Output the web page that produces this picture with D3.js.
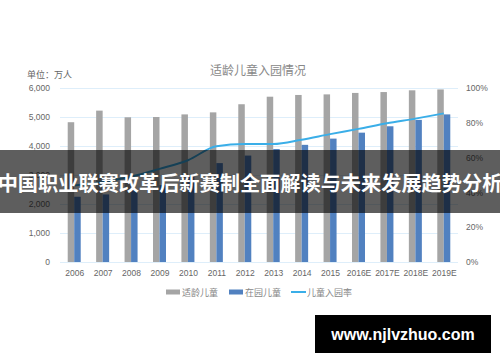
<!DOCTYPE html>
<meta charset="utf-8">
<title>适龄儿童入园情况</title>
<style>
	body { margin: 0; background-color: white; }
	svg text { font-family: "Noto Sans CJK SC", "Noto Sans", sans-serif; }
	.grid line { stroke: #deeefa; stroke-width: 1px; }
	.axis text { fill: #666; font-size: 8.5px; font-family: "Liberation Sans", Arial, sans-serif; }
</style>
<svg width="500" height="362"></svg>
<script src="https://d3js.org/d3.v7.min.js"></script>
<script>
// values (万人 / %)
var years = ["2006","2007","2008","2009","2010","2011","2012","2013","2014","2015","2016E","2017E","2018E","2019E"];
var ageChildren = [4820, 5220, 4990, 5000, 5090, 5160, 5440, 5700, 5760, 5780, 5830, 5860, 5920, 5950];
var enrolled = [2250, 2330, 2470, 2650, 2970, 3410, 3670, 3895, 4040, 4255, 4460, 4680, 4900, 5090];
var enrollRate = [44, 46, 49, 53.5, 58.5, 66.5, 67.8, 67.8, 70.3, 73.5, 76.5, 79.7, 82.4, 85.4];
var leftTicks = [0, 1000, 2000, 3000, 4000, 5000, 6000];
var rightTicks = [0, 20, 40, 60, 80, 100];

var svg = d3.select("svg");
var plotL = 60, plotR = 458, plotT = 88, plotB = 262;

var x = d3.scalePoint().domain(years).range([plotL, plotR]).padding(0.5);
var y = d3.scaleLinear().domain([0, 6000]).range([plotB, plotT]);
var y2 = d3.scaleLinear().domain([0, 100]).range([plotB, plotT]);
var barW = 6.5;

// title + unit
svg.append("text").attr("x", 258).attr("y", 75).attr("text-anchor", "middle")
   .attr("fill", "#888").style("font-size", "12px").text("适龄儿童入园情况");
svg.append("text").attr("x", 27).attr("y", 78)
   .attr("fill", "#666").style("font-size", "9px").text("单位：万人");

// gridlines
svg.append("g").attr("class", "grid").selectAll("line")
   .data(leftTicks).enter().append("line")
   .attr("x1", plotL).attr("x2", plotR)
   .attr("y1", function(d) { return y(d) + 0.5; })
   .attr("y2", function(d) { return y(d) + 0.5; });

// left axis
var ax = svg.append("g").attr("class", "axis")
   .attr("transform", "translate(50,0)")
   .call(d3.axisLeft(y).tickValues(leftTicks).tickFormat(d3.format(",")).tickSize(0).tickPadding(0));
ax.select(".domain").remove();

// right axis
var ax2 = svg.append("g").attr("class", "axis")
   .attr("transform", "translate(466,0)")
   .call(d3.axisRight(y2).tickValues(rightTicks).tickFormat(function(d) { return d + "%"; }).tickSize(0).tickPadding(0));
ax2.select(".domain").remove();

// x axis
var ax3 = svg.append("g").attr("class", "axis")
   .attr("transform", "translate(0,270)")
   .call(d3.axisBottom(x).tickSize(0).tickPadding(0));
ax3.select(".domain").remove();

// bars
svg.append("g").selectAll("rect")
   .data(years).enter().append("rect")
   .attr("x", function(d) { return x(d) - barW; })
   .attr("width", barW)
   .attr("y", function(d, i) { return y(ageChildren[i]); })
   .attr("height", function(d, i) { return plotB - y(ageChildren[i]); })
   .attr("fill", "#a5a5a5");

svg.append("g").selectAll("rect")
   .data(years).enter().append("rect")
   .attr("x", function(d) { return x(d); })
   .attr("width", barW)
   .attr("y", function(d, i) { return y(enrolled[i]); })
   .attr("height", function(d, i) { return plotB - y(enrolled[i]); })
   .attr("fill", "#5181c0");

// rate line
var line = d3.line()
   .x(function(d, i) { return x(years[i]); })
   .y(function(d) { return y2(d); })
   .curve(d3.curveMonotoneX);
svg.append("path").datum(enrollRate)
   .attr("d", line).attr("fill", "none")
   .attr("stroke", "#3aaee8").attr("stroke-width", 2);

// legend
var legend = svg.append("g").attr("transform", "translate(0,292)");
legend.append("rect").attr("x", 166).attr("y", -2.5).attr("width", 14).attr("height", 5).attr("fill", "#a5a5a5");
legend.append("text").attr("x", 182).attr("y", 3.5).attr("fill", "#888").style("font-size", "9px").text("适龄儿童");
legend.append("rect").attr("x", 229).attr("y", -2.5).attr("width", 14).attr("height", 5).attr("fill", "#5181c0");
legend.append("text").attr("x", 245).attr("y", 3.5).attr("fill", "#888").style("font-size", "9px").text("在园儿童");
legend.append("line").attr("x1", 291).attr("x2", 306).attr("y1", 0).attr("y2", 0).attr("stroke", "#3aaee8").attr("stroke-width", 2);
legend.append("text").attr("x", 307).attr("y", 3.5).attr("fill", "#888").style("font-size", "9px").text("儿童入园率");

// overlay banner
svg.append("rect").attr("x", 0).attr("y", 150).attr("width", 500).attr("height", 63)
   .attr("fill", "rgba(0,0,0,0.63)");
svg.append("text").attr("x", 250).attr("y", 191).attr("text-anchor", "middle")
   .attr("fill", "#fff").style("font-size", "20.2px").style("font-weight", "bold")
   .text("中国职业联赛改革后新赛制全面解读与未来发展趋势分析");

// site badge
svg.append("rect").attr("x", 315).attr("y", 315).attr("width", 176).attr("height", 38).attr("fill", "#000");
svg.append("text").attr("x", 403).attr("y", 340).attr("text-anchor", "middle")
   .attr("fill", "#fff").style("font-family", "'Liberation Sans', Arial, sans-serif")
   .style("font-size", "16px").style("font-weight", "bold").text("www.njlvzhuo.com");
</script>
